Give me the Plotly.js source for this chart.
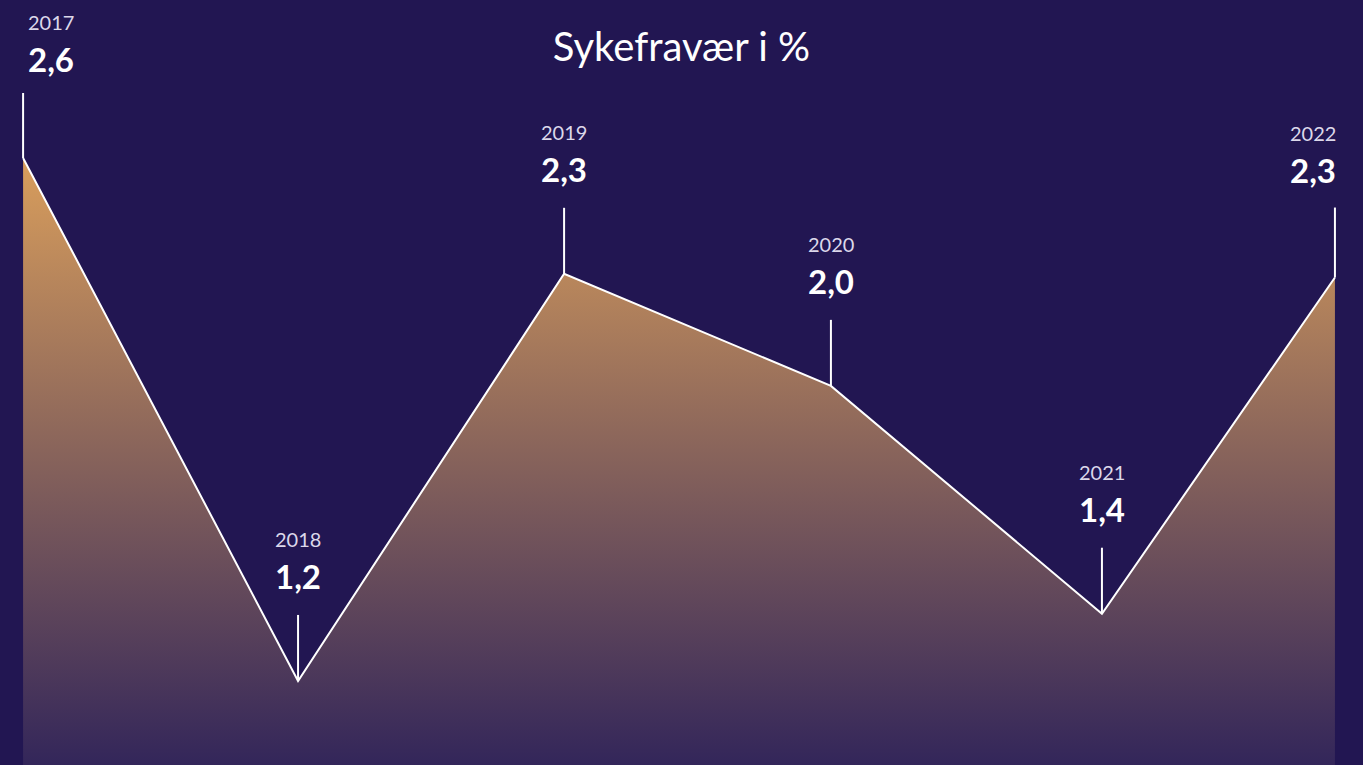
<!DOCTYPE html>
<html>
<head>
<meta charset="utf-8">
<script src="https://cdn.plot.ly/plotly-3.0.1.min.js"></script>
<style>
html,body{margin:0;padding:0;background:#221652;}
#chart{width:1363px;height:765px;}
</style>
</head>
<body>
<div id="chart"></div>
<script>
// Data
const yearLabels = ["2017", "2018", "2019", "2020", "2021", "2022"];
// x positions (points are not evenly spaced)
const xPositions = [2017, 2018.048, 2019.062, 2020.079, 2021.112, 2022];
const values = [2.6, 1.2, 2.29, 1.99, 1.38, 2.28];
const valueLabels = ["2,6", "1,2", "2,3", "2,0", "1,4", "2,3"];
const chartTitle = "Sykefravær i %";

const BG = "#221652";
const FONT = "Lato, 'Open Sans', sans-serif";

const trace = {
  x: xPositions,
  y: values,
  type: "scatter",
  mode: "lines",
  line: {color: "#ffffff", width: 2},
  fill: "tozeroy",
  fillgradient: {
    type: "vertical",
    start: 0.975,
    stop: 2.6,
    colorscale: [[0, "#33265a"], [1, "#d99e5c"]]
  },
  hoverinfo: "skip"
};

const shapes = [];
const annotations = [];
xPositions.forEach((xp, i) => {
  let xanchor = "center", xshift = 0, extra = 0, len = 66;
  if (i === 0) { xanchor = "left"; xshift = 3; extra = -6; len = 65; }
  if (i === xPositions.length - 1) { xanchor = "right"; xshift = 3; extra = 3; len = 70; }
  shapes.push({
    type: "line",
    xref: "x", yref: "y",
    x0: xp, x1: xp,
    ysizemode: "pixel",
    yanchor: values[i],
    y0: 0, y1: len,
    line: {color: "#ffffff", width: 2},
    layer: "above"
  });
  annotations.push({
    x: xp, y: values[i], xref: "x", yref: "y",
    text: yearLabels[i], showarrow: false,
    xanchor: xanchor, yanchor: "middle", xshift: xshift, yshift: 142 + extra,
    font: {family: FONT, size: 20, color: "#dcd8ea"}
  });
  annotations.push({
    x: xp, y: values[i], xref: "x", yref: "y",
    text: "<b>" + valueLabels[i] + "</b>", showarrow: false,
    xanchor: xanchor, yanchor: "middle", xshift: xshift, yshift: 105 + extra,
    font: {family: FONT, size: 33, color: "#ffffff"}
  });
});

const layout = {
  width: 1363, height: 765,
  margin: {l: 0, r: 0, t: 0, b: 0, pad: 0},
  paper_bgcolor: BG,
  plot_bgcolor: BG,
  showlegend: false,
  title: {
    text: chartTitle,
    x: 0.5, xanchor: "center",
    y: 0.938, yanchor: "middle",
    font: {family: FONT, size: 40, color: "#ffffff"}
  },
  xaxis: {
    range: [2016.912, 2022.107],
    visible: false, showgrid: false, zeroline: false, fixedrange: true
  },
  yaxis: {
    range: [0.975, 3.023],
    visible: false, showgrid: false, zeroline: false, fixedrange: true
  },
  shapes: shapes,
  annotations: annotations
};

Plotly.newPlot("chart", [trace], layout, {displayModeBar: false, staticPlot: true});
</script>
</body>
</html>
